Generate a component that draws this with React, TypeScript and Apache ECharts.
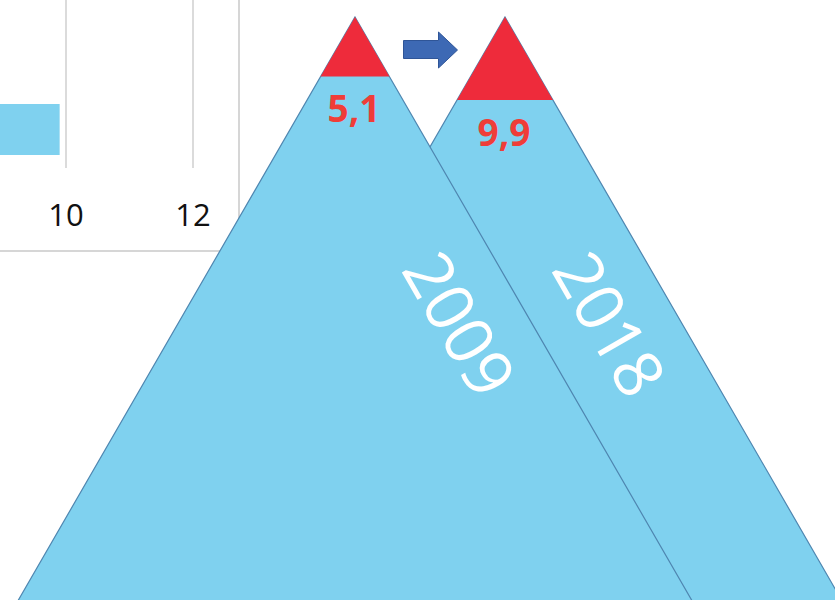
import React, { useEffect, useRef } from "react";
import * as echarts from "echarts";

// Bar panel (partially visible on the left)
const barCategories = ["2018", "2009"];
const barValues = [9.9, 5.1];
const axisMin = 8;
const axisMax = 12;
const axisInterval = 2;

// Mountain infographic
const peakYears = ["2009", "2018"];
const peakValues = [5.1, 9.9];

const BLUE = "#7fd1ef";
const EDGE = "#4f86b0";
const RED = "#ee2b3b";
const RED_TEXT = "#ef3d38";
const FONT = '"Open Sans", "Noto Sans", sans-serif';

export default function App() {
  const ref = useRef<HTMLDivElement>(null);

  useEffect(() => {
    const chart = echarts.init(ref.current!, null, { renderer: "svg" });
    const slope = Math.tan(Math.PI / 6);
    const option: any = {
      animation: false,
      backgroundColor: "#ffffff",
      grid: [
        {
          left: -61,
          top: -63,
          width: 254,
          height: 231,
          containLabel: false,
          outerBoundsMode: "none",
        },
        {
          left: 280,
          top: 17,
          width: 300,
          height: 583,
          containLabel: false,
          outerBoundsMode: "none",
        },
      ],
      xAxis: [
        {
          type: "value",
          gridIndex: 0,
          min: axisMin,
          max: axisMax,
          interval: axisInterval,
          axisLine: { show: false },
          axisTick: { show: false },
          axisLabel: {
            fontSize: 31,
            color: "#111",
            margin: 30,
            fontFamily: FONT,
            showMinLabel: false,
          },
          splitLine: { show: true, lineStyle: { color: "#cfcfcf", width: 1.5 } },
        },
        {
          type: "category",
          gridIndex: 1,
          data: peakYears,
          show: false,
        },
      ],
      yAxis: [
        {
          type: "category",
          gridIndex: 0,
          data: barCategories,
          min: 0,
          max: 2,
          show: false,
        },
        {
          type: "value",
          gridIndex: 1,
          min: 0,
          max: 1,
          show: false,
        },
      ],
      graphic: [
        {
          type: "line",
          shape: { x1: 239, y1: 0, x2: 239, y2: 251 },
          style: { stroke: "#d6d6d6", lineWidth: 2 },
          z: 1,
        },
        {
          type: "line",
          shape: { x1: 0, y1: 251, x2: 239, y2: 251 },
          style: { stroke: "#d6d6d6", lineWidth: 2 },
          z: 1,
        },
        {
          type: "polygon",
          shape: {
            points: [
              [403.5, 40.5],
              [438.5, 40.5],
              [438.5, 32],
              [457.5, 50],
              [438.5, 68],
              [438.5, 58.5],
              [403.5, 58.5],
            ],
          },
          style: { fill: "#3d69b4", stroke: "#2f5597", lineWidth: 1 },
          z: 20,
        },
      ],
      series: [
        {
          type: "bar",
          xAxisIndex: 0,
          yAxisIndex: 0,
          data: barValues,
          barWidth: 51,
          itemStyle: { color: BLUE },
          z: 2,
        },
        {
          type: "custom",
          xAxisIndex: 1,
          yAxisIndex: 1,
          clip: false,
          z: 5,
          data: peakValues.map((v, i) => [i, v]),
          renderItem: (params: any, api: any) => {
            const idx = api.value(0);
            const v = api.value(1);
            const pt = api.coord([idx, 1]);
            const cx = pt[0];
            const top = pt[1];
            const H = 700;
            const h = 26.4 * Math.sqrt(v);
            const z = idx === 0 ? 10 : 0;
            const label = String(v).replace(".", ",");
            return {
              type: "group",
              children: [
                {
                  type: "polygon",
                  z2: z,
                  shape: {
                    points: [
                      [cx, top],
                      [cx + slope * H, top + H],
                      [cx - slope * H, top + H],
                    ],
                  },
                  style: { fill: BLUE, stroke: EDGE, lineWidth: 1.2 },
                },
                {
                  type: "polygon",
                  z2: z + 1,
                  shape: {
                    points: [
                      [cx, top],
                      [cx + slope * h, top + h],
                      [cx - slope * h, top + h],
                    ],
                  },
                  style: { fill: RED },
                },
                {
                  type: "text",
                  z2: z + 2,
                  x: cx - 1,
                  y: top + h + 31,
                  style: {
                    text: label,
                    align: "center",
                    verticalAlign: "middle",
                    fill: RED_TEXT,
                    fontSize: 37,
                    fontWeight: "bold",
                    fontFamily: FONT,
                  },
                },
                {
                  type: "text",
                  z2: z + 2,
                  x: cx + 106,
                  y: top + 306,
                  rotation: -Math.PI / 3,
                  style: {
                    text: peakYears[idx],
                    align: "center",
                    verticalAlign: "middle",
                    fill: "#ffffff",
                    fontSize: 67,
                    fontFamily: FONT,
                  },
                },
              ],
            };
          },
        },
      ],
    };
    chart.setOption(option);
    return () => chart.dispose();
  }, []);

  return (
    <div
      ref={ref}
      style={{ position: "fixed", left: 0, top: 0, width: 835, height: 600 }}
    />
  );
}
